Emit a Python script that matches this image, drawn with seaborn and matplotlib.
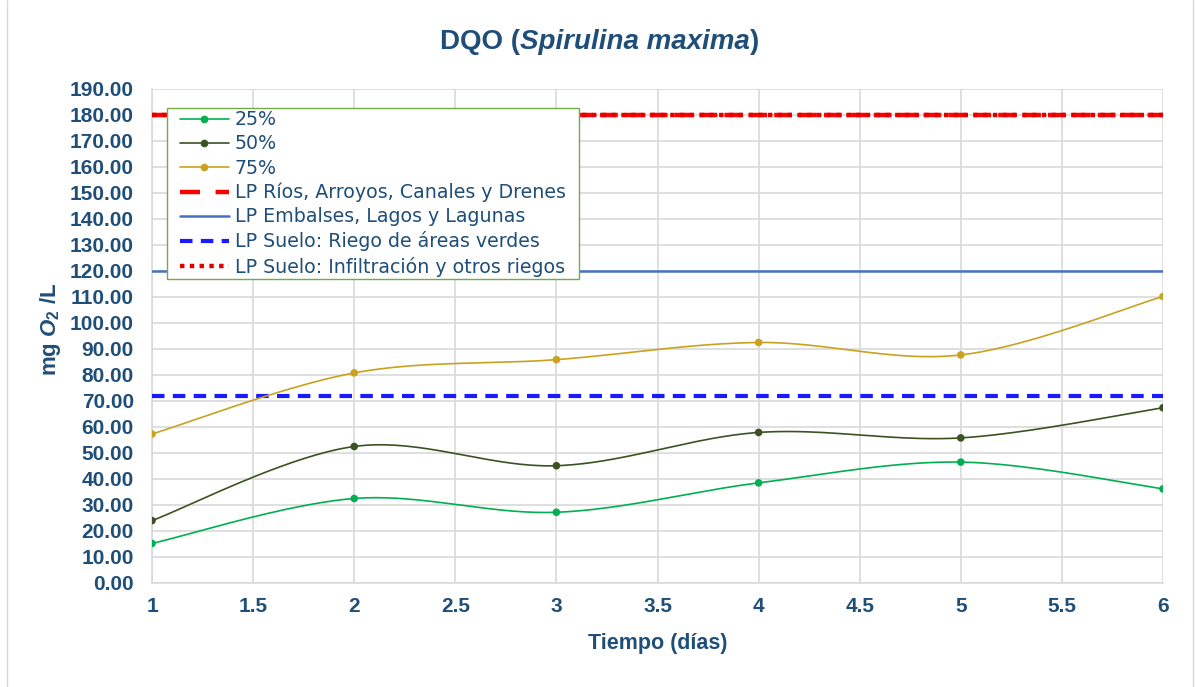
import numpy as np
import pandas as pd
import matplotlib
matplotlib.use("Agg")
import matplotlib.pyplot as plt
from matplotlib.lines import Line2D
from matplotlib.legend_handler import HandlerLine2D
import seaborn as sns

# Days of sampling and COD values (mg O2/L) for each concentration
dias = [1, 2, 3, 4, 5, 6]
dqo_25 = [15.2, 32.5, 27.2, 38.5, 46.5, 36.2]
dqo_50 = [24.0, 52.5, 45.1, 57.9, 55.8, 67.4]
dqo_75 = [57.3, 80.8, 85.9, 92.5, 87.7, 110.2]
series_names = ["25%", "50%", "75%"]
series_colors = ["#00B050", "#3B5323", "#C9A21F"]

# Permissible limits (LP)
limite_rios = 180.0
limite_embalses = 120.0
limite_riego = 72.0
limite_infiltracion = 180.0
limit_labels = [
    "LP Ríos, Arroyos, Canales y Drenes",
    "LP Embalses, Lagos y Lagunas",
    "LP Suelo: Riego de áreas verdes",
    "LP Suelo: Infiltración y otros riegos",
]

x_ticks = [1, 1.5, 2, 2.5, 3, 3.5, 4, 4.5, 5, 5.5, 6]
y_ticks = list(range(0, 200, 10))

TEXT = "#1F4E79"

sns.set_theme(style="white")
plt.rcParams["font.family"] = ["Liberation Sans", "DejaVu Sans"]
plt.rcParams["mathtext.fontset"] = "custom"
plt.rcParams["mathtext.rm"] = "Liberation Sans:bold"
plt.rcParams["mathtext.it"] = "Liberation Sans:italic:bold"
plt.rcParams["mathtext.bf"] = "Liberation Sans:bold"


def smooth_curve(x, y, n=40):
    """Catmull-Rom style Bezier smoothing through every data point."""
    x = np.asarray(x, float)
    y = np.asarray(y, float)
    px = np.concatenate([[x[0]], x, [x[-1]]])
    py = np.concatenate([[y[0]], y, [y[-1]]])
    xs, ys = [], []
    t = np.linspace(0, 1, n)
    for i in range(1, len(px) - 2):
        p0 = np.array([px[i], py[i]])
        p3 = np.array([px[i + 1], py[i + 1]])
        c1 = p0 + (p3 - np.array([px[i - 1], py[i - 1]])) / 6.0
        c2 = p3 - (np.array([px[i + 2], py[i + 2]]) - p0) / 6.0
        b = ((1 - t) ** 3)[:, None] * p0 + (3 * (1 - t) ** 2 * t)[:, None] * c1 \
            + (3 * (1 - t) * t ** 2)[:, None] * c2 + (t ** 3)[:, None] * p3
        if i > 1:
            b = b[1:]
        xs.append(b[:, 0])
        ys.append(b[:, 1])
    return np.concatenate(xs), np.concatenate(ys)


fig = plt.figure(figsize=(11.96, 6.87), dpi=100)
ax = fig.add_axes([0.1271, 0.1514, 0.8453, 0.7191])

# Light chart-area frame on both sides
for xf in (7 / 1196, 1193 / 1196):
    fig.add_artist(Line2D([xf, xf], [0, 1], transform=fig.transFigure,
                          color="#D9D9D9", linewidth=1.0))

points = pd.DataFrame({
    "dia": dias * 3,
    "dqo": dqo_25 + dqo_50 + dqo_75,
    "serie": np.repeat(series_names, len(dias)),
})
palette = dict(zip(series_names, series_colors))

for name, vals in zip(series_names, [dqo_25, dqo_50, dqo_75]):
    sx, sy = smooth_curve(dias, vals)
    curve = pd.DataFrame({"dia": sx, "dqo": sy})
    sns.lineplot(data=curve, x="dia", y="dqo", sort=False, ax=ax,
                 color=palette[name], linewidth=1.2, zorder=4)

sns.scatterplot(data=points, x="dia", y="dqo", hue="serie", palette=palette,
                s=30, edgecolor="none", legend=False, ax=ax, zorder=5)

# Horizontal limit lines spanning the time axis
RED_DASH = (0, (4, 1.6))
RED_DOT = (0, (1, 1.2))
BLUE_DASH = (0, (3, 2))
span = [dias[0], dias[-1]]
sns.lineplot(x=span, y=[limite_embalses] * 2, ax=ax, color="#4472C4",
             linewidth=1.8, zorder=3)
sns.lineplot(x=span, y=[limite_riego] * 2, ax=ax, color="#1A1AFF",
             linewidth=3.0, linestyle=BLUE_DASH, zorder=3)
sns.lineplot(x=span, y=[limite_rios] * 2, ax=ax, color="#FF0000",
             linewidth=3.2, linestyle=RED_DASH, zorder=3)
sns.lineplot(x=span, y=[limite_infiltracion] * 2, ax=ax, color="#E00000",
             linewidth=3.2, linestyle=RED_DOT, zorder=3)

ax.set_xlim(1, 6)
ax.set_ylim(0, 190)
ax.set_xticks(x_ticks)
ax.set_xticklabels([f"{v:g}" for v in x_ticks])
ax.set_yticks(y_ticks)
ax.set_yticklabels([f"{v:.2f}" for v in y_ticks])
ax.grid(True, color="#D9D9D9", linewidth=1.2)
ax.set_axisbelow(True)
for side in ["top", "right"]:
    ax.spines[side].set_visible(False)
for side in ["left", "bottom"]:
    ax.spines[side].set_color("#D9D9D9")
    ax.spines[side].set_linewidth(1.2)
ax.tick_params(axis="both", length=0, labelsize=15, labelcolor=TEXT)
ax.tick_params(axis="y", pad=13)
ax.tick_params(axis="x", pad=10)
for lab in ax.get_xticklabels() + ax.get_yticklabels():
    lab.set_fontweight("bold")

ax.set_xlabel("Tiempo (días)", fontsize=15.5, fontweight="bold", color=TEXT, labelpad=12)
ax.set_ylabel(r"mg $O_2$ /L", fontsize=16, fontweight="bold", color=TEXT)
ax.yaxis.set_label_coords(-0.088, 0.514)

# Title with the species name in italics
t1 = fig.text(0.368, 0.928, "DQO (", fontsize=20, fontweight="bold", color=TEXT,
              ha="left", va="baseline")
t2 = ax.annotate("Spirulina maxima", xy=(1, 0), xycoords=t1, fontsize=20,
                 fontweight="bold", fontstyle="italic", color=TEXT,
                 ha="left", va="bottom", annotation_clip=False)
t3 = ax.annotate(")", xy=(1, 0), xycoords=t2, fontsize=20, fontweight="bold",
                 color=TEXT, ha="left", va="bottom", annotation_clip=False)

handles = [
    Line2D([], [], color=series_colors[0], linewidth=1.2, marker="o", markersize=4.5),
    Line2D([], [], color=series_colors[1], linewidth=1.2, marker="o", markersize=4.5),
    Line2D([], [], color=series_colors[2], linewidth=1.2, marker="o", markersize=4.5),
    Line2D([], [], color="#FF0000", linewidth=3.2, linestyle=(0, (4.5, 3.5))),
    Line2D([], [], color="#4472C4", linewidth=1.8),
    Line2D([], [], color="#1A1AFF", linewidth=3.0, linestyle=BLUE_DASH),
    Line2D([], [], color="#E00000", linewidth=3.2, linestyle=RED_DOT),
]
labels = series_names + limit_labels
leg = ax.legend(handles, labels, loc="upper left",
                bbox_to_anchor=(0.0148, 0.0, 0.4075, 0.9615), mode="expand",
                prop={"family": "DejaVu Sans", "size": 13.7},
                handler_map={Line2D: HandlerLine2D(numpoints=1, xpad=0.55)},
                frameon=True, fancybox=False, framealpha=1,
                edgecolor="#70AD47", handlelength=3.13, handletextpad=0.3,
                labelspacing=0.27, borderpad=0.12, borderaxespad=0)
leg.get_frame().set_linewidth(1.0)
leg.set_zorder(10)
for txt in leg.get_texts():
    txt.set_color(TEXT)

fig.savefig("out.png", dpi=100)
